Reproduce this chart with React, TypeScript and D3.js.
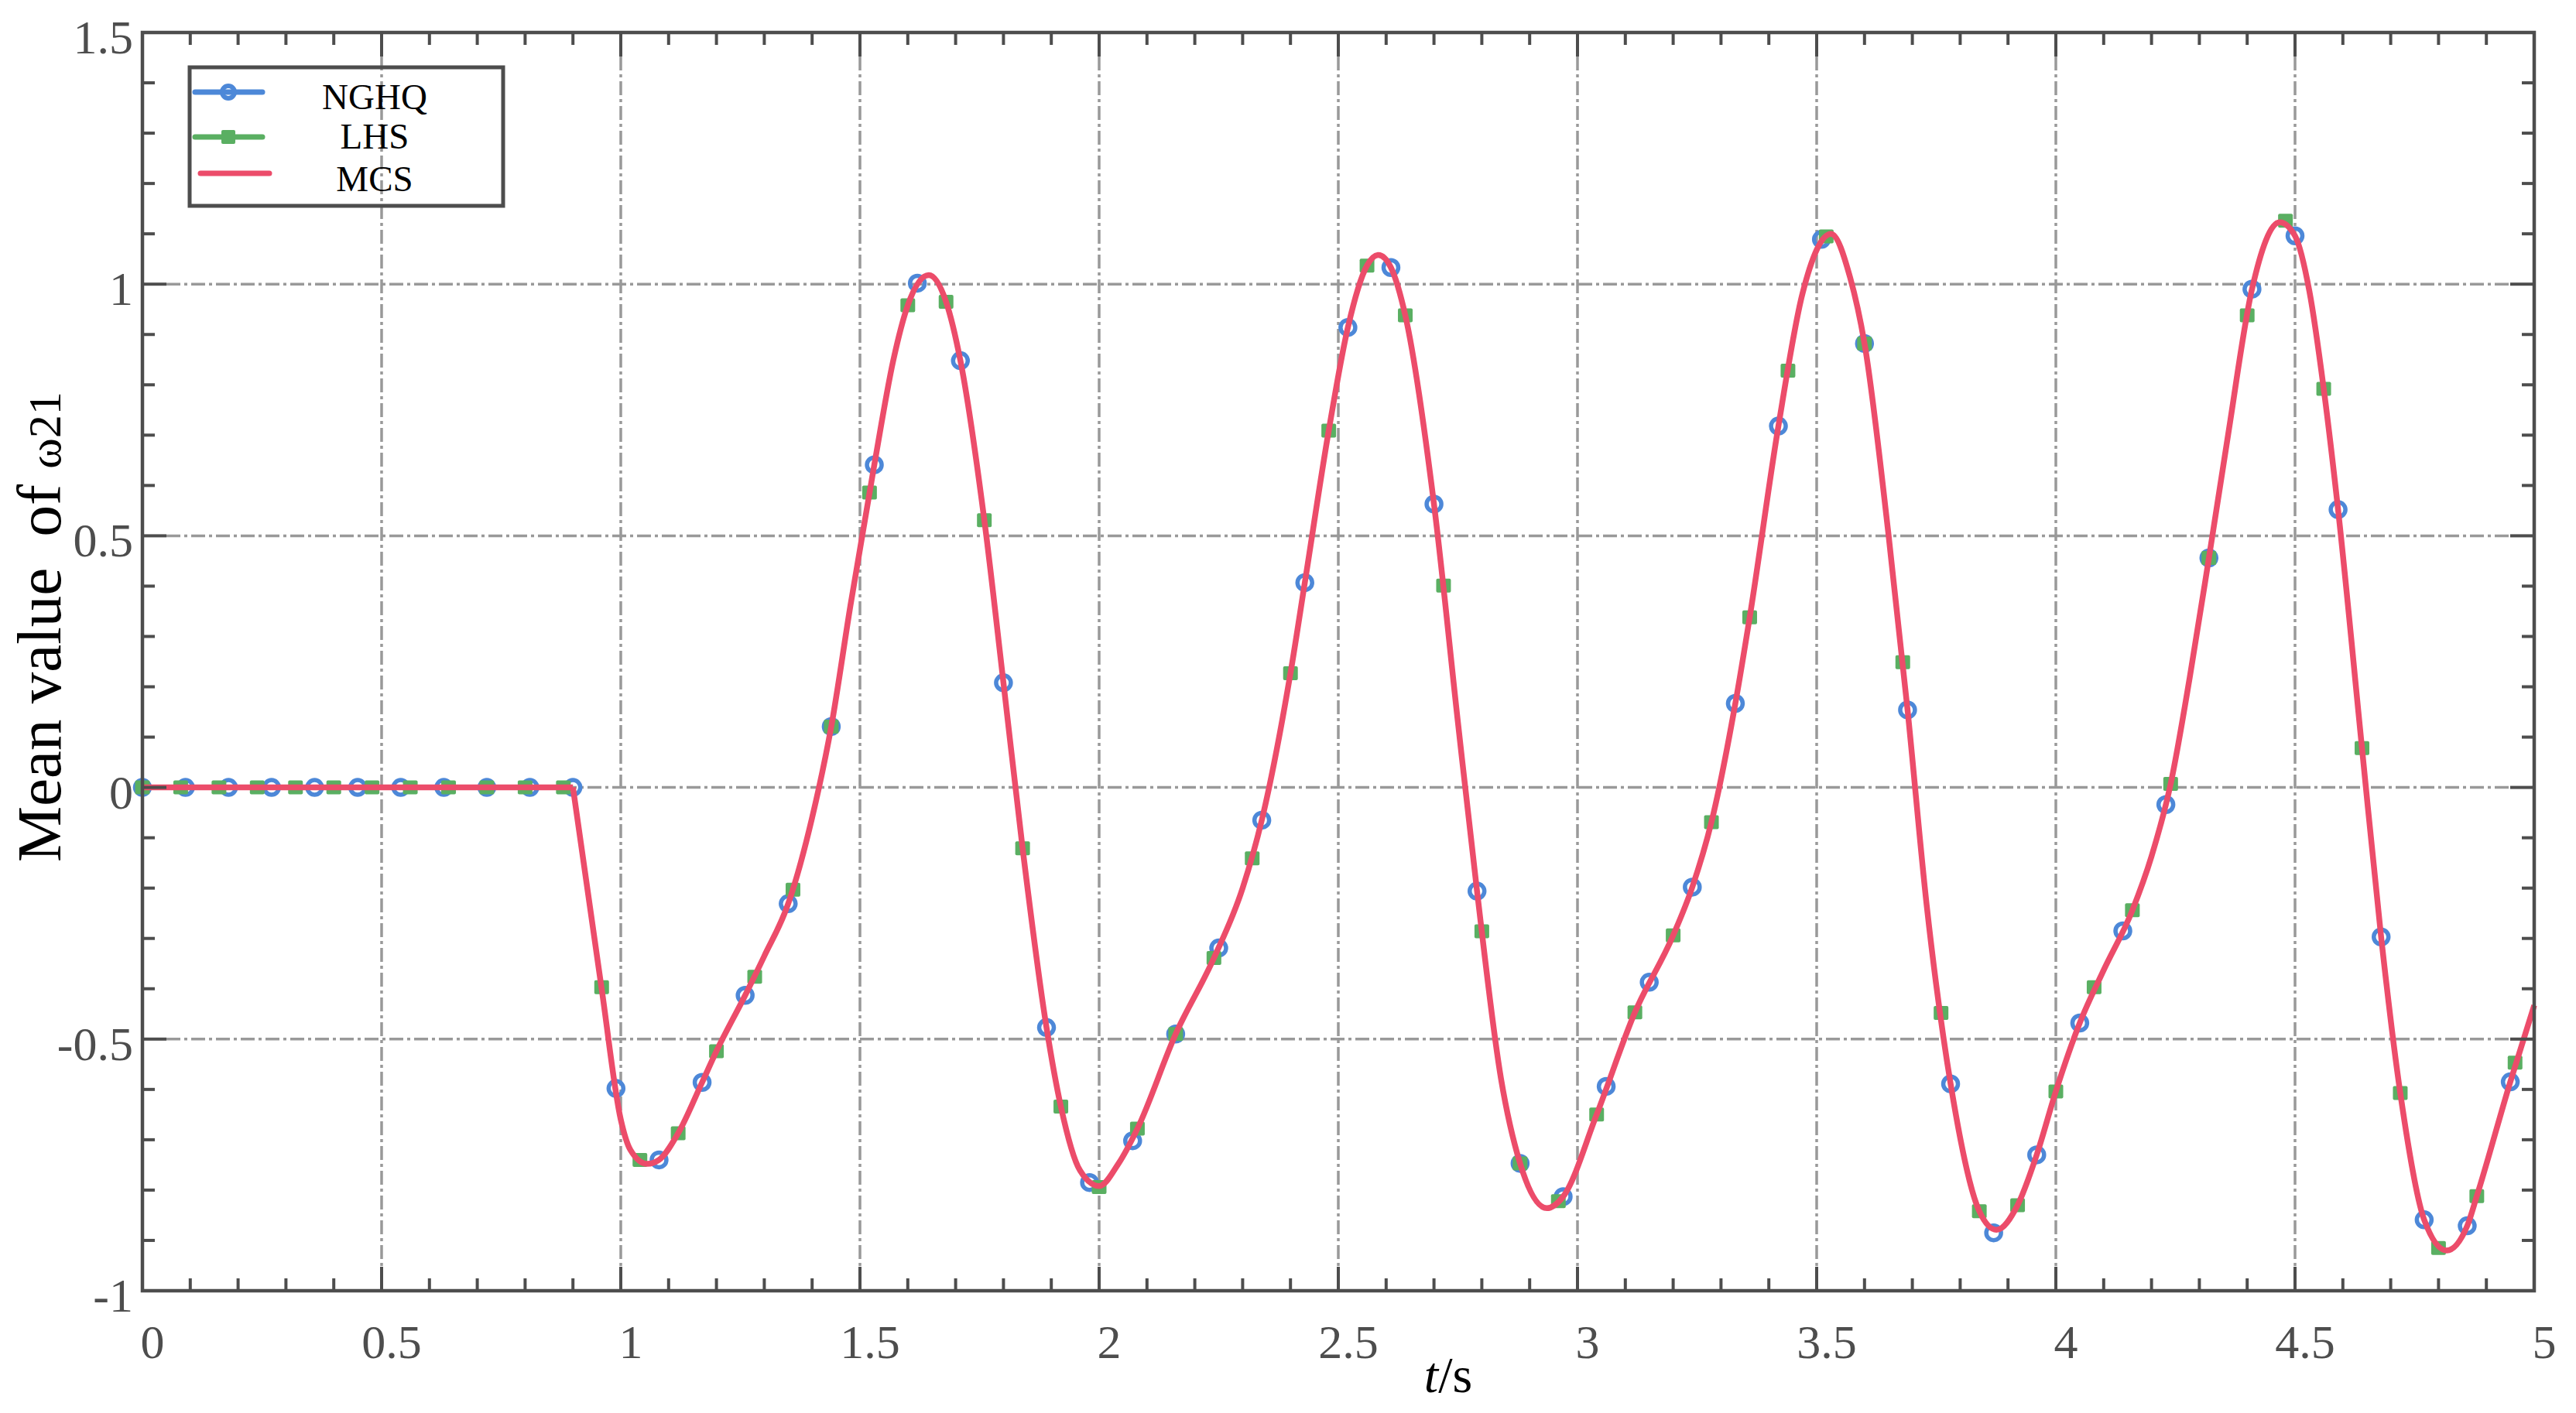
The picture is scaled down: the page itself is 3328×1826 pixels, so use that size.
import * as React from 'react'
import * as d3 from 'd3'

// NGHQ samples every 0.09 s, LHS every 0.08 s
const nghqStep = 0.09
const nghqValues = [
  0, 0, 0, 0, 0, 0, 0, 0, 0, 0, 0,
  -0.598, -0.74, -0.586, -0.413, -0.231, 0.121, 0.641, 1.002, 0.848, 0.208,
  -0.477, -0.785, -0.702, -0.49, -0.319, -0.065, 0.407, 0.914, 1.033, 0.563,
  -0.206, -0.747, -0.813, -0.594, -0.387, -0.198, 0.167, 0.718, 1.089, 0.882,
  0.154, -0.589, -0.885, -0.73, -0.468, -0.285, -0.034, 0.456, 0.99, 1.096,
  0.552, -0.297, -0.859, -0.871, -0.585,
]

const lhsStep = 0.08
const lhsValues = [
  0, 0, 0, 0, 0, 0, 0, 0, 0, 0, 0, 0,
  -0.397, -0.74, -0.687, -0.524, -0.376, -0.203, 0.121, 0.586, 0.958, 0.965,
  0.531, -0.121, -0.634, -0.794, -0.678, -0.49, -0.339, -0.141, 0.227, 0.709,
  1.037, 0.938, 0.401, -0.286, -0.747, -0.822, -0.65, -0.447, -0.294, -0.069,
  0.338, 0.828, 1.095, 0.882, 0.249, -0.448, -0.842, -0.83, -0.604, -0.397,
  -0.244, 0.007, 0.456, 0.938, 1.126, 0.792, 0.078, -0.607, -0.915, -0.812,
  -0.547,
]

// MCS reference curve, [t, value]
const mcsPoints: [number, number][] = [
  [0, 0], [0.9, 0], [0.96, -0.4], [1.0, -0.66], [1.02, -0.72], [1.055, -0.748],
  [1.08, -0.74], [1.12, -0.687], [1.17, -0.586], [1.2, -0.524], [1.26, -0.413],
  [1.3, -0.335], [1.35, -0.231], [1.4, -0.06], [1.44, 0.121], [1.48, 0.361],
  [1.53, 0.641], [1.57, 0.85], [1.6, 0.958], [1.644, 1.018], [1.68, 0.965],
  [1.71, 0.848], [1.76, 0.531], [1.8, 0.208], [1.84, -0.121], [1.89, -0.477],
  [1.92, -0.634], [1.96, -0.761], [2.0, -0.792], [2.04, -0.748], [2.08, -0.678],
  [2.16, -0.49], [2.24, -0.339], [2.3, -0.2], [2.34, -0.065], [2.4, 0.227],
  [2.43, 0.407], [2.48, 0.709], [2.52, 0.914], [2.56, 1.037], [2.584, 1.058],
  [2.61, 1.033], [2.64, 0.938], [2.7, 0.563], [2.75, 0.13], [2.79, -0.206],
  [2.84, -0.578], [2.88, -0.747], [2.936, -0.836], [2.97, -0.813], [3.04, -0.65],
  [3.12, -0.447], [3.2, -0.294], [3.24, -0.198], [3.28, -0.069], [3.33, 0.167],
  [3.36, 0.338], [3.42, 0.718], [3.47, 0.98], [3.53, 1.1], [3.57, 1.013],
  [3.6, 0.882], [3.65, 0.504], [3.69, 0.154], [3.73, -0.234], [3.78, -0.589],
  [3.84, -0.842], [3.876, -0.879], [3.92, -0.83], [3.96, -0.73], [4.0, -0.604],
  [4.05, -0.468], [4.1, -0.363], [4.16, -0.244], [4.2, -0.137], [4.24, 0.007],
  [4.28, 0.219], [4.32, 0.456], [4.36, 0.7], [4.41, 0.99], [4.468, 1.123],
  [4.5, 1.096], [4.53, 0.986], [4.56, 0.792], [4.59, 0.552], [4.64, 0.078],
  [4.68, -0.297], [4.72, -0.607], [4.77, -0.859], [4.817, -0.92], [4.86, -0.871],
  [4.88, -0.812], [4.95, -0.585], [5.0, -0.433],
]

const xTickLabels = ['0', '0.5', '1', '1.5', '2', '2.5', '3', '3.5', '4', '4.5', '5']
const yTickLabels = ['-1', '-0.5', '0', '0.5', '1', '1.5']
const seriesNames = ['NGHQ', 'LHS', 'MCS']

const BLUE = '#4d88d8'
const GREEN = '#5aaf62'
const RED = '#ec4c6a'
const AXIS = '#4d4d4d'
const GRID = '#999999'
const FONT = '"Liberation Serif", "Times New Roman", serif'

const W = 3328
const H = 1826
const BREAK_T = 0.9

const App = () => {
  React.useEffect(() => {
    document.body.style.margin = '0'
  }, [])

  const x = d3.scaleLinear().domain([0, 5]).range([184, 3274])
  const y = d3.scaleLinear().domain([-1, 1.5]).range([1668, 42])
  const [x0, x1] = x.range()
  const [y0, y1] = y.range()

  const nghq: [number, number][] = nghqValues.map((v, i) => [+(i * nghqStep).toFixed(2), v])
  const lhs: [number, number][] = lhsValues.map((v, i) => [+(i * lhsStep).toFixed(2), v])

  const flat = d3.line<[number, number]>().x(d => x(d[0])).y(d => y(d[1]))
  const smooth = d3.line<[number, number]>().x(d => x(d[0])).y(d => y(d[1])).curve(d3.curveMonotoneX)
  // flat start, sharp kink at BREAK_T, smooth afterwards
  const mcsPath =
    flat(mcsPoints.filter(p => p[0] <= BREAK_T)) + smooth(mcsPoints.filter(p => p[0] >= BREAK_T))

  const majorX = d3.range(0, 5.0001, 0.5)
  const minorX = d3.range(0, 5.0001, 0.1)
  const majorY = d3.range(-1, 1.5001, 0.5)
  const minorY = d3.range(-1, 1.5001, 0.1)
  const MAJ = 31
  const MIN = 16

  const legendRows = [
    { name: seriesNames[0], color: BLUE, marker: 'circle', ly: 119, ty: 141 },
    { name: seriesNames[1], color: GREEN, marker: 'square', ly: 177, ty: 192 },
    { name: seriesNames[2], color: RED, marker: 'none', ly: 224, ty: 247 },
  ]

  return (
    <svg width={W} height={H} style={{ position: 'absolute', left: 0, top: 0, background: '#fff' }}>
      <rect width={W} height={H} fill="#fff" />

      {/* grid */}
      <g stroke={GRID} strokeWidth={3.5} strokeDasharray="18 5 4 5" fill="none">
        {majorX.slice(1, -1).map((t, i) => (
          <line key={'gx' + i} x1={x(t)} x2={x(t)} y1={y1 + MAJ} y2={y0 - MAJ} />
        ))}
        {majorY.slice(1, -1).map((v, i) => (
          <line key={'gy' + i} x1={x0 + MAJ} x2={x1 - MAJ} y1={y(v)} y2={y(v)} />
        ))}
      </g>

      {/* NGHQ markers */}
      {nghq.map((d, i) => (
        <circle key={'c' + i} cx={x(d[0])} cy={y(d[1])} r={9.5} fill="none" stroke={BLUE} strokeWidth={5.5} />
      ))}

      {/* LHS markers */}
      {lhs.map((d, i) => (
        <rect key={'s' + i} x={x(d[0]) - 9.5} y={y(d[1]) - 9} width={19} height={18} rx={2} fill={GREEN} />
      ))}

      {/* MCS */}
      <path d={mcsPath} fill="none" stroke={RED} strokeWidth={7.5} strokeLinejoin="round" />

      {/* ticks */}
      <g stroke={AXIS} strokeWidth={4}>
        {minorX.slice(1, -1).map((t, i) => {
          const isMaj = Math.abs(t * 2 - Math.round(t * 2)) < 1e-6
          const len = isMaj ? MAJ : MIN
          return (
            <g key={'tx' + i}>
              <line x1={x(t)} x2={x(t)} y1={y0} y2={y0 - len} />
              <line x1={x(t)} x2={x(t)} y1={y1} y2={y1 + len} />
            </g>
          )
        })}
        {minorY.slice(1, -1).map((v, i) => {
          const isMaj = Math.abs(v * 2 - Math.round(v * 2)) < 1e-6
          const len = isMaj ? MAJ : MIN
          return (
            <g key={'ty' + i}>
              <line x1={x0} x2={x0 + len} y1={y(v)} y2={y(v)} />
              <line x1={x1} x2={x1 - len} y1={y(v)} y2={y(v)} />
            </g>
          )
        })}
      </g>

      {/* frame */}
      <rect x={x0} y={y1} width={x1 - x0} height={y0 - y1} fill="none" stroke={AXIS} strokeWidth={4.5} />

      {/* tick labels */}
      <g fontFamily={FONT} fontSize={62} fill={AXIS}>
        {majorX.map((t, i) => (
          <text key={'lx' + i} x={x(t) + 13} y={1755} textAnchor="middle">{xTickLabels[i]}</text>
        ))}
        {majorY.map((v, i) => (
          <text key={'ly' + i} x={172} y={y(v) + 6} textAnchor="end" dominantBaseline="central">{yTickLabels[i]}</text>
        ))}
      </g>

      {/* axis titles */}
      <text x={1871} y={1799} fontFamily={FONT} fontSize={66} fill="#000" textAnchor="middle">
        <tspan fontStyle="italic">t</tspan>/s
      </text>
      <text
        transform="translate(78,1114) rotate(-90)"
        fontFamily={FONT}
        fontSize={81}
        fill="#000"
        style={{ whiteSpace: 'pre' }}
      >
        {'Mean value  of '}
        <tspan fontSize={60}>ω21</tspan>
      </text>

      {/* legend */}
      <rect x={245} y={87} width={405} height={179} fill="none" stroke={AXIS} strokeWidth={5} />
      {legendRows.map(r => (
        <g key={r.name}>
          <line
            x1={r.marker === 'none' ? 259 : 252}
            x2={r.marker === 'none' ? 348 : 339}
            y1={r.ly}
            y2={r.ly}
            stroke={r.color}
            strokeWidth={7}
            strokeLinecap="round"
          />
          {r.marker === 'circle' && (
            <circle cx={295} cy={r.ly} r={8} fill="none" stroke={r.color} strokeWidth={6} />
          )}
          {r.marker === 'square' && (
            <rect x={286} y={r.ly - 9} width={18} height={18} rx={2} fill={r.color} />
          )}
          <text x={484} y={r.ty} fontFamily={FONT} fontSize={47} fill="#000" textAnchor="middle">
            {r.name}
          </text>
        </g>
      ))}
    </svg>
  )
}

export default App
